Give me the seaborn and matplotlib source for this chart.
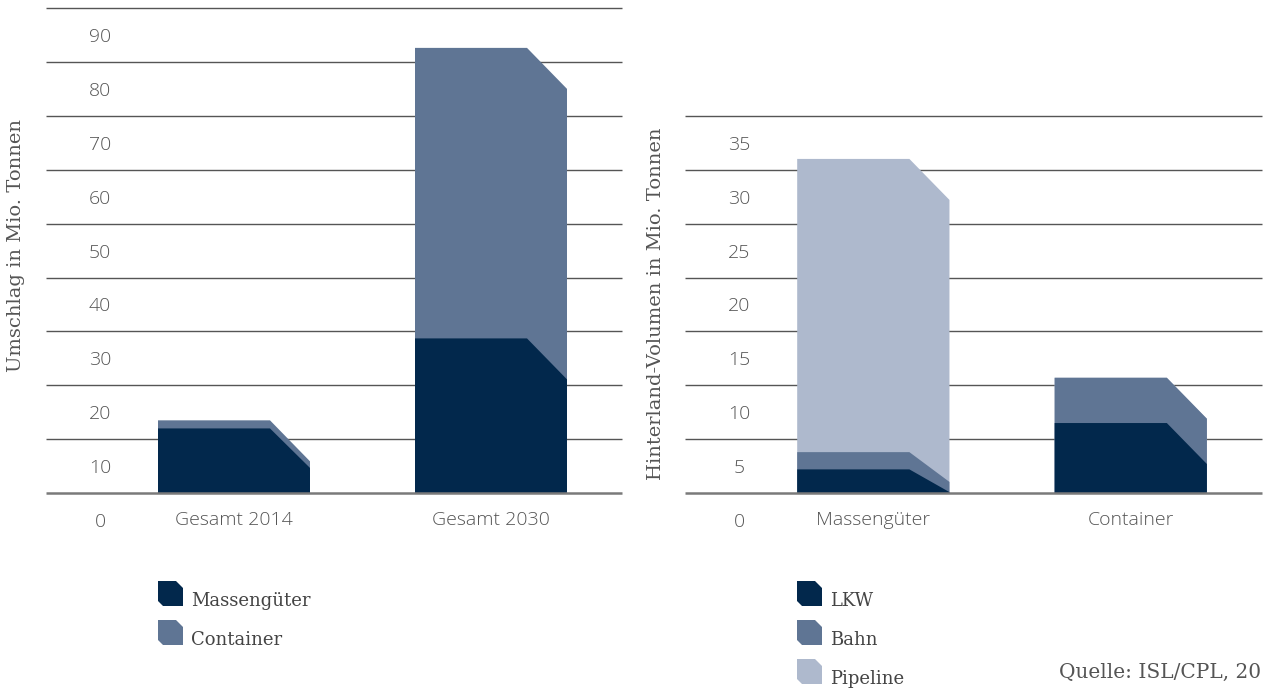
import numpy as np
import pandas as pd
import matplotlib
matplotlib.use("Agg")
import matplotlib.pyplot as plt
from matplotlib.patches import Polygon
import seaborn as sns

# ---------------- data ----------------
left_cats = ["Gesamt 2014", "Gesamt 2030"]
left_mass = [12.0, 28.7]
left_cont = [1.5, 53.9]

right_cats = ["Massengüter", "Container"]
right_lkw = [2.2, 6.5]
right_bahn = [1.6, 4.2]
right_pipe = [27.2, 0.0]

left_ticks = [0, 10, 20, 30, 40, 50, 60, 70, 80, 90]
right_ticks = [0, 5, 10, 15, 20, 25, 30, 35]

# ---------------- style ----------------
C_DARK = "#02284c"
C_MID = "#5f7594"
C_LIGHT = "#aeb9cd"
GRID = "#555555"
TXT = "#555555"
SLAB = ["DejaVu Serif"]
SANS = ["Open Sans", "DejaVu Sans"]

sns.set_theme(style="white")
plt.rcParams["font.family"] = SANS

W, H = 1263, 690
fig = plt.figure(figsize=(W / 100, H / 100), dpi=100)


def fx(x):
    return x / W


def fy(y):
    return 1 - y / H


AX_TOP, AX_BOT = 8, 547
axL = fig.add_axes([fx(46), fy(AX_BOT), fx(622) - fx(46), (AX_BOT - AX_TOP) / H])
axR = fig.add_axes([fx(685), fy(AX_BOT), fx(1262) - fx(685), (AX_BOT - AX_TOP) / H])

XL = (-188 / 257, -188 / 257 + 576 / 257)
BAR_W = 152 / 257
CHAMF_X = 40 / 257


def draw_panel(ax, cats, layers, colors, ylim, ticks, step, ylabel, lab_xy):
    names = list(layers.keys())
    cum = np.cumsum(np.array([layers[n] for n in names]), axis=0)
    rows = []
    for i in range(len(names) - 1, -1, -1):
        for j, c in enumerate(cats):
            rows.append({"cat": c, "layer": names[i], "cum": cum[i][j]})
    df = pd.DataFrame(rows)
    order = names[::-1]
    sns.barplot(data=df, x="cat", y="cum", hue="layer", hue_order=order,
                order=cats, dodge=False, palette=[colors[n] for n in order],
                width=BAR_W, saturation=1, legend=False, ax=ax, zorder=2)
    ax.set_xlim(*XL)
    ax.set_ylim(*ylim)
    ax.set_xlabel("")
    ax.set_ylabel("")

    ax_h_px = (AX_BOT - AX_TOP)
    ppu = ax_h_px / (ylim[1] - ylim[0])

    rects = [p for p in ax.patches]
    for p in rects:
        x0 = p.get_x()
        w = p.get_width()
        top = p.get_height()
        col = p.get_facecolor()
        p.remove()
        top_px = top * ppu
        drop_px = min(41, 13 + 0.41 * top_px, top_px)
        drop = drop_px / ppu
        x1 = x0 + w
        poly = Polygon([(x0, 0), (x0, top), (x1 - CHAMF_X, top),
                        (x1, top - drop), (x1, 0)],
                       closed=True, facecolor=col, edgecolor="none", zorder=2)
        ax.add_patch(poly)

    ax.hlines([t for t in ticks if t > 0], XL[0], XL[1], color=GRID,
              lw=1.0, zorder=0, clip_on=False)
    ax.hlines([0], XL[0], XL[1], color="#7a7a7a", lw=1.8, zorder=3,
              clip_on=False)

    ax.set_yticks([t - step / 2 for t in ticks])
    ax.set_yticklabels([str(t) for t in ticks])
    ax.tick_params(axis="y", length=0, pad=-54 * 0.72, labelsize=14,
                   labelcolor=TXT)
    for t in ax.get_yticklabels():
        t.set_horizontalalignment("center")
        t.set_fontweight("light")

    ax.set_xticks(range(len(cats)))
    ax.set_xticklabels(cats)
    ax.tick_params(axis="x", length=0, pad=-27 * 0.72, labelsize=14,
                   labelcolor=TXT)
    for t in ax.get_xticklabels():
        t.set_verticalalignment("center")
        t.set_fontweight("light")

    for s in ax.spines.values():
        s.set_visible(False)
    ax.set_facecolor("none")

    ax.set_ylabel(ylabel, fontsize=14, color=TXT, family=SLAB)
    ax.yaxis.set_label_coords(*lab_xy)


draw_panel(axL, left_cats,
           {"Massengüter": left_mass, "Container": left_cont},
           {"Massengüter": C_DARK, "Container": C_MID},
           (-10, 90), left_ticks, 10, "Umschlag in Mio. Tonnen",
           ((25 - 46) / 576, (AX_BOT - 246) / (AX_BOT - AX_TOP)))

draw_panel(axR, right_cats,
           {"LKW": right_lkw, "Bahn": right_bahn, "Pipeline": right_pipe},
           {"LKW": C_DARK, "Bahn": C_MID, "Pipeline": C_LIGHT},
           (-5, 45), right_ticks, 5, "Hinterland-Volumen in Mio. Tonnen",
           ((665 - 685) / 577, (AX_BOT - 304) / (AX_BOT - AX_TOP)))


# ---------------- legends ----------------
def legend_item(x, y, color, label):
    s = 25
    c1, c2 = 7, 5
    pts = [(x, y), (x + s - c1, y), (x + s, y + c1), (x + s, y + s),
           (x + c2, y + s), (x, y + s - c2)]
    fig.add_artist(Polygon([(fx(a), fy(b)) for a, b in pts], closed=True,
                           transform=fig.transFigure, facecolor=color,
                           edgecolor="none"))
    fig.text(fx(x + 33), fy(y + 25), label, fontsize=13, color="#444444",
             family=SLAB, va="baseline", ha="left")


legend_item(158, 581, C_DARK, "Massengüter")
legend_item(158, 620, C_MID, "Container")
legend_item(797, 581, C_DARK, "LKW")
legend_item(797, 620, C_MID, "Bahn")
legend_item(797, 659, C_LIGHT, "Pipeline")

# source note: runs past the right edge, as in the reference
fig.text(fx(1059), fy(678), "Quelle: ISL/CPL, 2015", fontsize=14.5,
         color=TXT, family=SLAB, va="baseline", ha="left")

fig.savefig("out.png", dpi=100)
